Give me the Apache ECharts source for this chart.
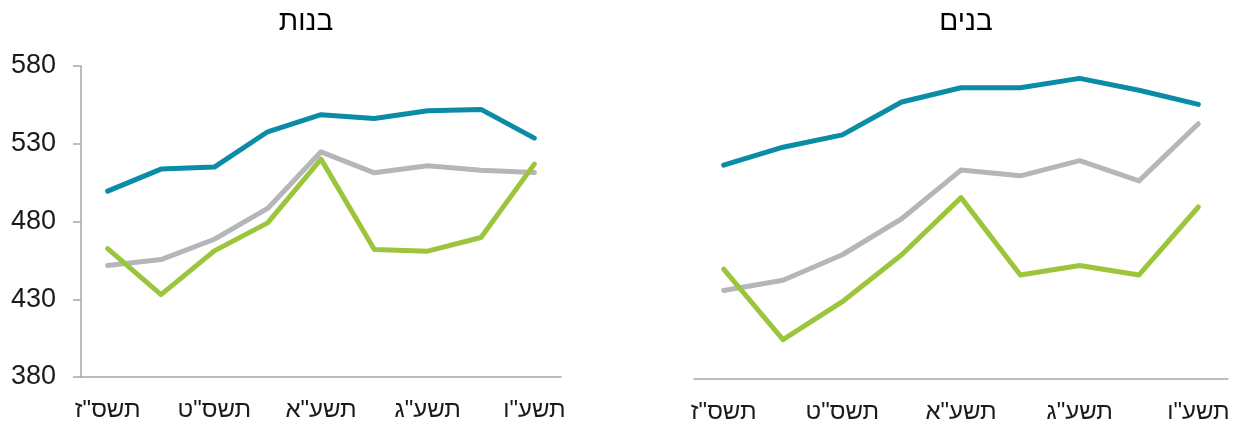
<!DOCTYPE html>
<html>
<head>
<meta charset="utf-8">
<script src="https://cdn.jsdelivr.net/npm/echarts@6/dist/echarts.min.js"></script>
<style>
html,body{margin:0;padding:0;background:#fff;}
#c{width:1243px;height:431px;}
</style>
</head>
<body>
<div id="c"></div>
<script>
// Data
const categories = ['תשס"ז','תשס"ח','תשס"ט','תש"ע','תשע"א','תשע"ב','תשע"ג','תשע"ד','תשע"ו'];
const panelTitles = ['בנות','בנים'];
const yTicks = [380, 430, 480, 530, 580];

// girls (left)
const girlsBlue  = [499.5, 513.7, 515.0, 537.7, 548.7, 546.3, 551.2, 552.1, 533.6];
const girlsGray  = [451.7, 455.5, 468.6, 488.4, 524.8, 511.3, 515.8, 513.0, 511.5];
const girlsGreen = [462.6, 433.0, 461.1, 479.1, 520.1, 462.0, 460.9, 469.7, 516.9];

// boys (right)
const boysBlue  = [516.7, 528.1, 536.0, 557.0, 566.1, 566.1, 572.1, 564.5, 555.5];
const boysGray  = [436.6, 443.1, 459.4, 482.4, 513.5, 509.8, 519.5, 506.6, 543.1];
const boysGreen = [450.2, 405.1, 429.4, 459.4, 495.9, 446.5, 452.5, 446.5, 489.9];

const colors = {blue:'#0a8ba6', gray:'#b5b6ba', green:'#9cc53c'};
const font = 'Liberation Sans, Arial, sans-serif';

const chart = echarts.init(document.getElementById('c'), null, {renderer:'canvas'});

function xAxis(gi){
  return {
    type:'category', gridIndex:gi, data:categories, boundaryGap:true,
    axisLine:{show:true, lineStyle:{color:'#a6a6a6', width:1.5}},
    axisTick:{show:false},
    axisLabel:{interval:1, color:'#1a1a1a', fontSize:24, fontFamily:font, margin:21},
    splitLine:{show:false}
  };
}
function yAxis(gi, show){
  return {
    type:'value', gridIndex:gi, min:380, max:580, interval:50,
    axisLine:{show:show, lineStyle:{color:'#a6a6a6', width:1.5}},
    axisTick:{show:show, length:8, lineStyle:{color:'#a6a6a6', width:1.5}},
    axisLabel:{show:show, color:'#1a1a1a', fontSize:27, fontFamily:font, margin:25,
      formatter:v => yTicks.includes(v) ? String(v) : ''},
    splitLine:{show:false}
  };
}
function line(name, data, color, gi){
  return {
    name, type:'line', xAxisIndex:gi, yAxisIndex:gi, data,
    symbol:'none', smooth:false,
    lineStyle:{color, width:5, cap:'round', join:'round'},
    itemStyle:{color}, animation:false
  };
}

chart.setOption({
  animation:false,
  backgroundColor:'#fff',
  title:[
    {text:panelTitles[0], left:301, top:3, textAlign:'center',
     textStyle:{fontSize:28, fontWeight:'normal', color:'#000', fontFamily:font}},
    {text:panelTitles[1], left:961, top:3, textAlign:'center',
     textStyle:{fontSize:28, fontWeight:'normal', color:'#000', fontFamily:font}}
  ],
  grid:[
    {left:81, right:682, top:66, bottom:54},
    {left:694, right:15, top:66, bottom:52}
  ],
  xAxis:[xAxis(0), xAxis(1)],
  yAxis:[yAxis(0,true), yAxis(1,false)],
  series:[
    line('girls-gray', girlsGray, colors.gray, 0),
    line('girls-green', girlsGreen, colors.green, 0),
    line('girls-blue', girlsBlue, colors.blue, 0),
    line('boys-gray', boysGray, colors.gray, 1),
    line('boys-green', boysGreen, colors.green, 1),
    line('boys-blue', boysBlue, colors.blue, 1)
  ]
});
</script>
</body>
</html>
